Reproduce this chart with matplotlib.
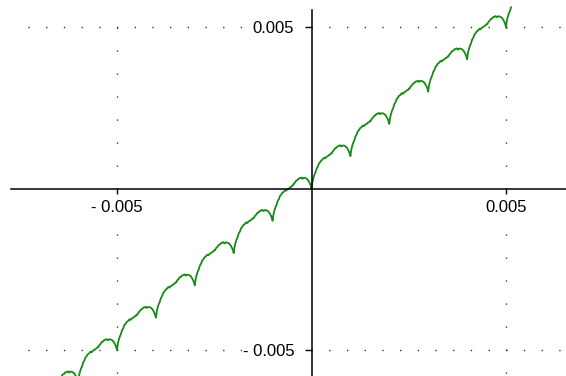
import matplotlib
matplotlib.use('Agg')
import matplotlib.pyplot as plt
import numpy as np

# las cuspides de la curva (en milesimas), donde toca la recta y = x
cusps = [-7, -6, -5, -4, -3, -2, -1, 0, 1, 2, 3, 4, 5]
# forma de un escalon entre dos cuspides
step_t = [0.00, 0.02, 0.04, 0.07, 0.10, 0.13, 0.16, 0.19, 0.22, 0.25, 0.28, 0.31,
          0.33, 0.35, 0.38, 0.42, 0.45, 0.48, 0.50, 0.52, 0.55, 0.58, 0.61, 0.64,
          0.67, 0.70, 0.73, 0.75, 0.77, 0.79, 0.82, 0.85, 0.88, 0.91, 0.94, 0.96,
          0.98, 1.00]
step_dy = [0.00, 0.18, 0.29, 0.41, 0.49, 0.61, 0.67, 0.77, 0.81, 0.87, 0.89, 0.94,
           0.95, 0.93, 0.98, 1.00, 1.04, 1.05, 1.09, 1.09, 1.16, 1.19, 1.25, 1.26,
           1.31, 1.31, 1.34, 1.32, 1.30, 1.33, 1.33, 1.32, 1.30, 1.26, 1.20, 1.15,
           1.09, 1.00]
x_end = 0.00516

tick_vals = [-0.005, 0.005]
tick_labels = ['- 0.005', '0.005']

xs = []
ys = []
for k in cusps:
    for t, d in zip(step_t, step_dy):
        xs.append((k + t) * 0.001)
        ys.append((k + d) * 0.001)
xs = np.array(xs)
ys = np.array(ys)
keep = xs <= x_end

plt.rcParams['font.family'] = 'Liberation Sans'
fig = plt.figure(figsize=(5.66, 3.76), dpi=100)
ax = fig.add_axes([0, 0, 1, 1])
ax.set_xlim(-0.0080077, 0.0065424)
ax.set_ylim(-0.005805, 0.005836)

# rejilla punteada
for v in tick_vals:
    ax.plot([-0.007296, 0.0066], [v, v], color='#222222', lw=1.0,
            linestyle=(0, (0.9, 11.84)), zorder=1)
    ax.plot([v, v], [0.005, -0.0059], color='#222222', lw=1.0,
            linestyle=(0, (0.9, 15.66)), zorder=1)

ax.plot(xs[keep], ys[keep], color='#178a17', lw=1.3, zorder=2)

# ejes en el origen
for s in ['top', 'right']:
    ax.spines[s].set_visible(False)
ax.spines['left'].set_position(('data', 0))
ax.spines['bottom'].set_position(('data', 0))
ax.spines['bottom'].set_bounds(-0.007725, 0.0066)
ax.spines['left'].set_bounds(-0.0059, 0.005526)
ax.spines['left'].set_linewidth(1.1)
ax.spines['bottom'].set_linewidth(1.1)

ax.set_xticks(tick_vals)
ax.set_xticklabels(tick_labels)
ax.set_yticks(tick_vals)
ax.set_yticklabels(tick_labels)
ax.tick_params(axis='x', direction='out', length=3.6, width=1.0, pad=5, labelsize=12,
               colors='black')
ax.tick_params(axis='y', direction='out', length=5, width=1.0, pad=7.5, labelsize=12,
               colors='black')
for lbl in ax.get_xticklabels() + ax.get_yticklabels():
    lbl.set_bbox(dict(facecolor='white', edgecolor='none', pad=0.5))

fig.savefig('out.png', dpi=100)
